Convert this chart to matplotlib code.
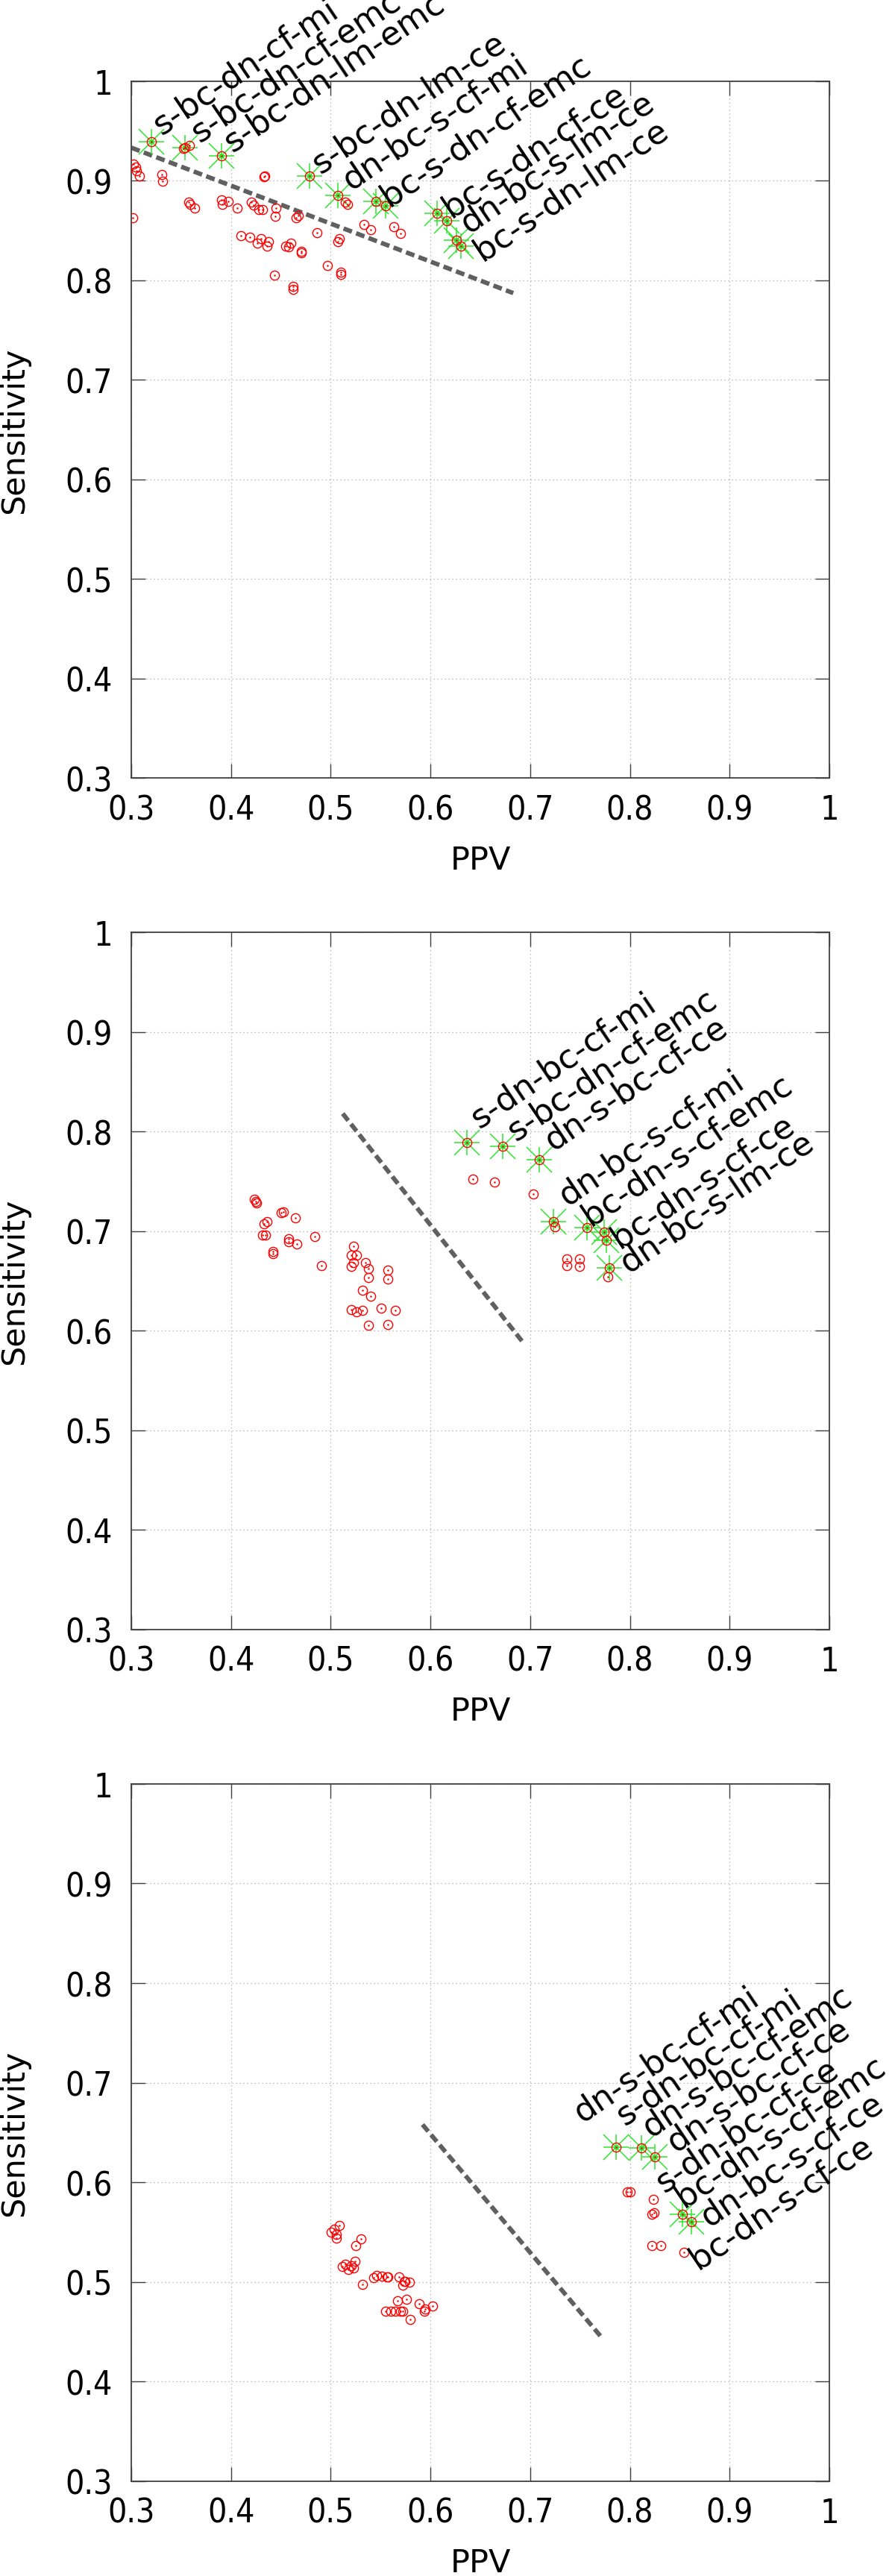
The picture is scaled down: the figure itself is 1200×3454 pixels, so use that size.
import numpy as np
import matplotlib
matplotlib.use("Agg")
import matplotlib.pyplot as plt
from matplotlib import font_manager

plt.rcParams['font.family'] = ['DejaVu Sans']

# ---- panel 1 data ----
p1_ppv = [0.3025, 0.3045, 0.3055, 0.3080, 0.3309, 0.3317, 0.4341, 0.4331, 0.3578, 0.3590, 0.3633,
          0.3903, 0.3915, 0.3972, 0.4065, 0.4202, 0.4227, 0.4314, 0.4277, 0.4451, 0.4446, 0.4650,
          0.4675, 0.3017, 0.4102, 0.4189, 0.4264, 0.4301, 0.4364, 0.4376, 0.4551, 0.4601, 0.4576,
          0.4708, 0.4708, 0.4862, 0.5087, 0.5075, 0.4434, 0.4970, 0.5099, 0.5099, 0.4621, 0.4621,
          0.5149, 0.5165, 0.5336, 0.5398, 0.5635, 0.5698, 0.3520, 0.3580]
p1_sens = [0.9163, 0.9133, 0.9100, 0.9045, 0.9058, 0.8995, 0.9045, 0.9035, 0.8783, 0.8758, 0.8720,
           0.8808, 0.8758, 0.8790, 0.8720, 0.8783, 0.8750, 0.8708, 0.8708, 0.8720, 0.8640, 0.8625,
           0.8645, 0.8628, 0.8445, 0.8433, 0.8375, 0.8420, 0.8345, 0.8383, 0.8345, 0.8370, 0.8333,
           0.8275, 0.8290, 0.8475, 0.8420, 0.8388, 0.8050, 0.8150, 0.8083, 0.8058, 0.7940, 0.7908,
           0.8783, 0.8760, 0.8558, 0.8508, 0.8533, 0.8470, 0.9320, 0.9350]
p1_best_ppv = [0.3204, 0.3541, 0.3903, 0.4788, 0.5074, 0.5456, 0.5548, 0.6067, 0.6166, 0.6259, 0.6308]
p1_best_sens = [0.9388, 0.9333, 0.9250, 0.9045, 0.8853, 0.8790, 0.8745, 0.8670, 0.8595, 0.8400, 0.8345]
p1_labels = ['s-bc-dn-cf-mi', 's-bc-dn-cf-emc', 's-bc-dn-lm-emc', 's-bc-dn-lm-ce', 'dn-bc-s-cf-mi',
             'bc-s-dn-cf-emc', 'bc-s-dn-cf-ce', 'dn-bc-s-lm-ce', 'bc-s-dn-lm-ce']
p1_lab_x = [0.3304, 0.3683, 0.4015, 0.4895, 0.5199, 0.5585, 0.6209, 0.6383, 0.6520]
p1_lab_y = [0.9457, 0.9382, 0.9290, 0.9070, 0.8905, 0.8744, 0.8632, 0.8470, 0.8194]
p1_line_x = [0.300, 0.683]
p1_line_y = [0.933, 0.787]

# ---- panel 2 data ----
p2_ppv = [0.6423, 0.6641, 0.7030, 0.7247, 0.7367, 0.7367, 0.7493, 0.7493, 0.7780,
          0.4231, 0.4259, 0.4245, 0.4328, 0.4345, 0.4317, 0.4362, 0.4500, 0.4528, 0.4643, 0.4574,
          0.4574, 0.4660, 0.4420, 0.4420, 0.4843, 0.4906, 0.5232, 0.5204, 0.5261, 0.5204, 0.5232,
          0.5347, 0.5375, 0.5375, 0.5576, 0.5576, 0.5318, 0.5404, 0.5204, 0.5261, 0.5318, 0.5507,
          0.5650, 0.5375, 0.5576]
p2_sens = [0.7521, 0.7489, 0.7376, 0.7046, 0.6718, 0.6655, 0.6718, 0.6643, 0.6545,
           0.7320, 0.7283, 0.7300, 0.7071, 0.6958, 0.6958, 0.7096, 0.7183, 0.7196, 0.7133, 0.6895,
           0.6920, 0.6870, 0.6770, 0.6795, 0.6945, 0.6655, 0.6845, 0.6758, 0.6758, 0.6645, 0.6683,
           0.6683, 0.6620, 0.6533, 0.6608, 0.6516, 0.6408, 0.6345, 0.6214, 0.6189, 0.6201, 0.6226,
           0.6201, 0.6051, 0.6064]
p2_best_ppv = [0.6366, 0.6721, 0.7093, 0.7236, 0.7568, 0.7740, 0.7762, 0.7797]
p2_best_sens = [0.7890, 0.7855, 0.7720, 0.7096, 0.7032, 0.6994, 0.6907, 0.6632]
p2_labels = ['s-dn-bc-cf-mi', 's-bc-dn-cf-emc', 'dn-s-bc-cf-ce', 'dn-bc-s-cf-mi',
             'bc-dn-s-cf-emc', 'bc-dn-s-cf-ce', 'dn-bc-s-lm-ce']
p2_lab_x = [0.6484, 0.6851, 0.7225, 0.7370, 0.7608, 0.7894, 0.7980]
p2_lab_y = [0.8032, 0.7907, 0.7807, 0.7257, 0.7057, 0.6832, 0.6582]
p2_line_x = [0.512, 0.693]
p2_line_y = [0.818, 0.588]

# ---- panel 3 data ----
p3_ppv = [0.7973, 0.8006, 0.8235, 0.8218, 0.8243, 0.8218, 0.8313, 0.8542,
          0.5003, 0.5031, 0.5060, 0.5089, 0.5060, 0.5301, 0.5249, 0.5147, 0.5204, 0.5232, 0.5175,
          0.5118, 0.5244, 0.5318, 0.5461, 0.5576, 0.5433, 0.5719, 0.5748,
          0.5512, 0.5562, 0.5686, 0.5736, 0.5786, 0.5669, 0.5761, 0.5886, 0.6023, 0.5936, 0.5948,
          0.5549, 0.5599, 0.5649, 0.5699, 0.5724, 0.5798]
p3_sens = [0.5903, 0.5903, 0.5828, 0.5678, 0.5693, 0.5366, 0.5366, 0.5298,
           0.5503, 0.5528, 0.5478, 0.5566, 0.5440, 0.5433, 0.5365, 0.5178, 0.5166, 0.5141, 0.5129,
           0.5154, 0.5204, 0.4978, 0.5066, 0.5054, 0.5041, 0.4966, 0.5004,
           0.5059, 0.5054, 0.5054, 0.5004, 0.4999, 0.4809, 0.4829, 0.4779, 0.4759, 0.4709, 0.4729,
           0.4709, 0.4704, 0.4709, 0.4704, 0.4709, 0.4624]
p3_best_ppv = [0.7863, 0.8118, 0.8248, 0.8530, 0.8617]
p3_best_sens = [0.6352, 0.6345, 0.6254, 0.5678, 0.5603]
p3_labels = ['dn-s-bc-cf-mi', 's-dn-bc-cf-mi', 'dn-s-bc-cf-emc', 'dn-s-bc-cf-ce',
             's-dn-bc-cf-ce', 'bc-dn-s-cf-emc', 'dn-bc-s-cf-ce', 'bc-dn-s-cf-ce']
p3_lab_x = [0.7519, 0.7943, 0.8205, 0.8455, 0.8342, 0.8542, 0.8791, 0.8679]
p3_lab_y = [0.6602, 0.6577, 0.6452, 0.6302, 0.5903, 0.5753, 0.5553, 0.5129]
p3_line_x = [0.592, 0.771]
p3_line_y = [0.658, 0.445]

ticks = [0.3, 0.4, 0.5, 0.6, 0.7, 0.8, 0.9, 1.0]
tick_labels = ['0.3', '0.4', '0.5', '0.6', '0.7', '0.8', '0.9', '1']

panels = [
    (p1_ppv, p1_sens, p1_best_ppv, p1_best_sens, p1_labels, p1_lab_x, p1_lab_y, p1_line_x, p1_line_y),
    (p2_ppv, p2_sens, p2_best_ppv, p2_best_sens, p2_labels, p2_lab_x, p2_lab_y, p2_line_x, p2_line_y),
    (p3_ppv, p3_sens, p3_best_ppv, p3_best_sens, p3_labels, p3_lab_x, p3_lab_y, p3_line_x, p3_line_y),
]

# tick numbers look condensed in the original; use a condensed face if there is one
cond = [f for f in font_manager.fontManager.ttflist
        if f.name == 'DejaVu Sans' and str(f.stretch) in ('condensed', 'semi-condensed', '87.5', '75')]
if cond:
    tick_font = dict(family='DejaVu Sans', stretch='condensed', size=32)
else:
    tick_font = dict(family='DejaVu Sans', size=29)

fig = plt.figure(figsize=(12, 34.55), dpi=100)
bottoms = [0.6977, 0.3673, 0.0368]
green = '#2ee62e'
red = '#ff0000'
frame = '#404040'

for (px, py, bx, by, labs, lx, ly, linex, liney), b in zip(panels, bottoms):
    ax = fig.add_axes([0.1467, b, 0.78, 0.2706])
    ax.set_xlim(0.3, 1.0)
    ax.set_ylim(0.3, 1.0)
    ax.set_xticks(ticks)
    ax.set_yticks(ticks)
    ax.set_xticklabels(tick_labels, fontdict=tick_font)
    ax.set_yticklabels(tick_labels, fontdict=tick_font)
    ax.grid(True, color='#a8a8a8', linestyle=(0, (1, 3)), linewidth=0.9)
    ax.set_axisbelow(True)
    ax.tick_params(direction='in', length=14, width=1.0, color=frame, top=True, right=True, pad=18)
    ax.tick_params(axis='x', pad=15)
    for s in ax.spines.values():
        s.set_color(frame)
        s.set_linewidth(1.3)

    # separating line
    ax.plot(linex, liney, color='#606060', linewidth=4.3, dashes=(2, 1), solid_capstyle='butt', zorder=2)

    # pareto points as asterisks
    ax.plot(bx, by, linestyle='none', marker='+', ms=24, mew=1.1, color=green, zorder=3)
    ax.plot(bx, by, linestyle='none', marker='x', ms=24, mew=1.1, color=green, zorder=3)
    ax.plot(bx, by, linestyle='none', marker='o', ms=3.5, color=green, zorder=3)

    # all points as red circles with center dots
    allx = list(px) + list(bx)
    ally = list(py) + list(by)
    ax.plot(allx, ally, linestyle='none', marker='o', ms=8.8, mfc='none', mec=red, mew=1.0, zorder=4)
    ax.plot(allx, ally, linestyle='none', marker='o', ms=1.8, color=red, mew=0, zorder=4)

    for t, x, y in zip(labs, lx, ly):
        ax.text(x, y, t, rotation=34, rotation_mode='anchor', ha='left', va='baseline',
                fontsize=32, color='black', clip_on=False, zorder=5)

    ax.set_xlabel('PPV', fontsize=31)
    ax.set_ylabel('Sensitivity', fontsize=31)
    ax.xaxis.set_label_coords(0.5, -0.117)
    ax.xaxis.label.set_va('center')
    ax.yaxis.set_label_coords(-0.168, 0.5)
    ax.yaxis.label.set_va('center')

fig.savefig('out.png', dpi=100, facecolor='white')
